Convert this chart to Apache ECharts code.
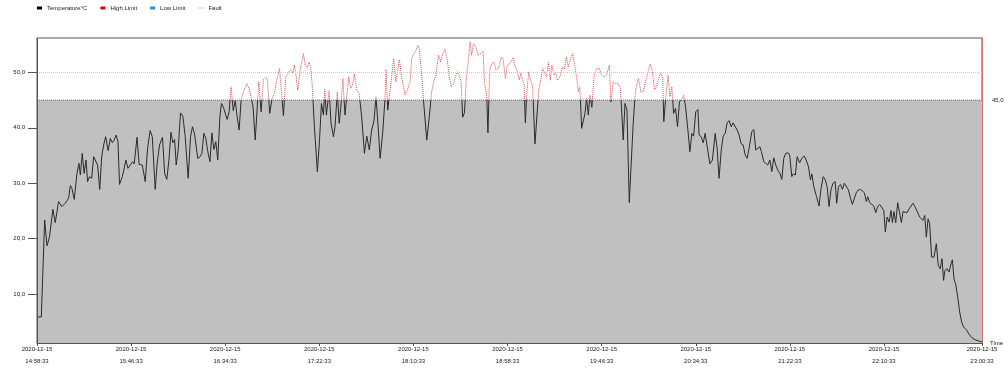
<!DOCTYPE html>
<html><head><meta charset="utf-8">
<script src="https://cdn.jsdelivr.net/npm/echarts@6/dist/echarts.min.js"></script>
<style>html,body{margin:0;padding:0;background:#fff}#c{width:1008px;height:374px}</style>
</head><body><div id="c"></div>
<script>
// elapsed minutes since 2020-12-15 14:58:33
const elapsedMin = [0,2.2,3.9,5.1,6.4,8.1,9.3,11.0,12.7,14.4,16.1,17.0,17.8,19.0,20.4,21.4,22.1,23.1,24.0,25.0,25.8,26.8,27.9,28.9,29.9,30.9,32.0,33.0,34.0,35.0,36.3,37.4,38.4,39.4,40.4,41.3,42.1,43.5,44.3,45.3,46.4,47.6,48.8,49.6,51.0,52.1,53.7,55.2,56.4,57.7,58.8,60.3,61.3,62.5,64.0,65.1,66.2,67.3,68.3,69.3,70.2,71.0,72.0,73.2,74.4,75.6,77.1,78.3,79.3,80.3,81.0,82.0,83.2,84.1,85.1,86.1,87.1,88.2,89.2,90.2,91.2,92.2,93.3,94.1,95.1,96.1,97.0,98.0,99.0,100.1,101.1,102.1,103.1,104.1,105.3,107.0,108.2,109.2,110.2,111.3,112.1,113.1,114.3,115.5,116.5,117.5,118.7,119.9,121.1,122.3,123.7,
125.7,126.9,127.9,128.8,129.4,130.5,131.3,132.2,133.0,134.2,135.1,135.9,136.8,137.8,138.8,139.6,140.3,141.5,143.0,144.1,145.1,146.1,146.8,147.6,149.0,150.0,151.2,152.0,153.2,154.1,154.9,156.0,157.1,158.0,159.0,159.9,160.9,161.9,163.1,164.3,165.6,167.0,168.2,169.5,170.7,171.9,172.9,174.0,175.0,176.3,177.5,178.0,178.9,179.7,180.9,181.9,183.0,184.0,184.8,186.0,187.7,189.1,190.3,191.1,192.3,193.3,194.2,195.0,196.2,197.4,198.8,200.1,201.3,202.5,203.5,204.7,205.9,206.9,208.1,209.3,210.3,211.3,212.4,213.4,214.4,215.4,216.3,217.1,218.0,219.1,220.2,220.9,221.7,222.6,223.7,224.9,226.3,227.5,228.3,229.4,230.0,230.9,231.9,233.1,234.1,235.3,
237.0,237.8,238.9,239.9,241.2,242.1,242.9,243.9,245.0,246.0,246.8,247.7,248.4,249.1,249.7,250.8,251.8,252.8,254.0,255.2,256.0,256.9,257.9,258.9,259.9,260.9,261.8,262.6,263.7,264.5,265.5,266.7,267.9,268.9,270.0,271.0,272.2,273.2,274.2,275.2,276.1,276.9,277.8,278.6,279.5,280.3,281.2,282.0,283.0,284.1,285.4,286.8,288.0,289.3,290.5,291.9,292.7,293.9,295.1,296.3,297.6,298.3,299.0,299.9,300.9,302.1,302.9,304.1,305.0,305.8,306.8,308.0,309.2,310.4,311.6,312.8,313.9,315.0,316.0,317.0,318.0,319.1,319.7,320.7,321.9,322.8,323.8,324.7,325.7,326.7,327.7,328.7,329.8,330.8,332.0,333.0,334.0,334.9,336.0,337.1,337.7,338.8,339.8,340.8,341.5,343.2,344.5,345.9,346.9,347.9,349.0,350.0,351.0,352.0,353.0,354.1,355.1,356.1,357.1,358.1,359.1,360.2,361.2,362.2,363.2,
364.6,365.6,366.6,367.6,368.7,369.5,370.7,371.7,372.7,373.8,374.8,375.8,376.8,377.8,378.9,379.9,380.9,381.9,383.1,383.9,385.0,385.7,386.8,387.7,389.0,390.1,391.3,392.3,393.5,394.5,395.2,396.2,397.6,398.9,399.9,401.0,402.0,403.0,404.0,405.0,406.0,407.1,407.9,408.8,409.8,410.8,411.8,412.8,413.9,414.9,415.9,416.9,417.9,418.9,420.0,421.0,422.0,423.0,423.7,424.7,425.7,426.8,427.8,428.8,429.8,430.8,431.9,432.7,433.6,434.6,435.6,436.3,437.1,438.0,439.0,440.0,440.9,441.7,442.7,443.8,444.8,445.8,446.8,447.8,448.5,449.5,450.2,451.1,451.9,452.8,453.6,454.5,455.3,456.3,457.5,458.7,459.7,460.7,461.6,462.4,463.1,464.2,465.2,466.2,466.9,467.7,468.6,469.6,470.6,471.6,472.6,474.0,475.4,476.7,478.4,480.1,482.0];
const temperature = [5.9,5.9,23.4,18.7,20.4,25.3,22.9,26.7,25.8,26.4,27.3,29.6,29.1,27.1,31.8,33.6,31.5,35.4,31.8,34.2,30.3,31.2,30.9,34.8,34.5,33.3,28.9,34.8,36.9,38.4,35.9,38.1,37.3,37.8,38.7,37.5,29.8,31.2,32.4,34.2,32.7,33.3,33.9,33.5,38.3,33.4,33.3,30.3,36.3,39.5,38.4,28.9,33.6,36.9,38.3,31.8,30.7,34.2,39.2,37.3,37.9,33.3,36.0,42.7,42.1,38.4,30.9,38.4,40.2,39.0,39.0,34.5,34.8,35.4,39.0,38.1,35.7,33.9,39.1,36.1,37.5,34.2,42.1,44.4,43.7,43.7,41.5,42.9,47.4,43.1,44.9,42.0,39.6,45.0,46.5,48.0,47.1,47.1,43.8,37.8,42.3,48.3,42.9,48.7,49.1,48.7,42.6,45.3,46.2,48.6,50.7,
42.2,49.2,49.8,49.5,50.5,49.9,51.3,49.2,46.8,50.5,50.7,53.4,51.3,50.9,51.8,50.9,48.0,40.2,32.1,37.8,44.4,42.3,46.9,42.3,46.7,40.8,38.4,40.2,46.5,40.8,43.5,48.9,42.3,45.7,49.2,47.1,47.7,49.7,46.8,46.2,42.0,35.4,38.5,36.0,39.6,41.3,45.6,40.2,34.5,39.0,45.3,50.5,43.2,42.9,49.2,52.5,48.3,50.5,52.3,49.2,45.9,47.1,48.3,52.5,53.4,54.0,54.9,54.3,49.5,43.8,37.8,42.0,46.5,48.6,49.5,53.1,51.9,53.4,54.2,52.2,49.2,47.4,47.9,49.2,50.1,49.5,48.3,41.9,42.7,49.2,52.8,55.5,53.1,55.1,54.8,53.1,53.4,53.8,48.0,45.6,39.1,50.4,51.6,51.9,50.4,50.7,
52.8,52.3,48.9,51.3,51.6,51.9,52.7,51.0,50.1,48.6,49.9,48.6,48.0,40.9,45.6,50.1,48.6,47.4,37.1,43.2,47.1,48.6,50.7,50.7,49.2,51.8,48.6,51.3,49.5,50.1,48.6,49.2,51.0,50.5,52.8,51.0,52.5,53.4,51.3,49.2,46.5,47.4,39.9,39.6,42.6,45.3,42.3,45.9,43.7,49.2,50.7,50.7,49.5,49.2,49.5,51.3,44.7,48.3,48.0,48.0,47.1,46.8,37.8,44.4,43.2,26.5,32.4,40.8,45.6,47.7,48.9,46.5,46.5,48.3,50.1,51.5,50.1,46.9,47.4,48.7,49.9,49.2,41.1,45.6,49.5,45.6,47.4,42.6,43.5,40.2,44.7,45.1,45.9,43.8,39.6,35.7,39.0,38.5,42.9,43.3,38.7,38.4,37.3,39.0,39.1,33.5,34.2,39.0,36.3,30.9,36.0,38.5,39.0,40.9,41.3,40.2,40.9,41.1,39.6,38.7,37.2,36.9,35.1,34.5,36.3,
39.3,39.7,36.0,36.1,36.6,35.7,33.9,33.6,33.3,34.2,32.1,34.6,33.3,32.4,31.8,30.7,34.5,35.4,35.5,35.1,31.2,31.7,31.5,34.8,33.7,34.5,34.9,34.2,33.0,30.6,31.7,29.4,27.6,25.9,29.1,31.2,30.7,29.4,25.8,28.9,30.0,30.3,26.4,29.4,29.8,28.9,30.0,29.8,28.8,27.3,26.2,27.3,28.3,28.8,28.9,28.9,28.3,26.7,27.6,26.5,26.4,25.9,24.7,25.8,26.2,26.1,25.1,21.2,23.9,23.0,25.1,22.9,24.9,22.9,26.5,26.4,22.9,24.9,25.1,24.7,25.4,25.9,26.4,25.8,25.9,24.5,23.9,24.2,23.3,24.2,20.3,23.6,22.7,16.7,16.7,19.1,15.2,14.6,16.4,12.5,14.3,14.6,14.0,15.5,16.2,12.8,11.8,9.5,6.8,5.0,4.1,3.6,2.8,2.2,1.8,1.6,1.4];
const highLimit = 45;
const gridLineValue = 50;
const yTickValues = [10, 20, 30, 40, 50];
const xTickMinutes = [0, 48, 96, 144, 192, 240, 288, 336, 384, 432, 482];
const legendNames = ['Temperature°C', 'High Limit', 'Low Limit', 'Fault'];

const t0 = new Date(2020, 11, 15, 14, 58, 33).getTime();
const tempData = elapsedMin.map((m, i) => [m, temperature[i]]);
const mEnd = 482;
const pad = n => String(n).padStart(2, '0');
function fmtTime(m) {
  const d = new Date(t0 + Math.round(m * 60000));
  return d.getFullYear() + '-' + pad(d.getMonth() + 1) + '-' + pad(d.getDate()) + '\n' +
    pad(d.getHours()) + ':' + pad(d.getMinutes()) + ':' + pad(d.getSeconds());
}
const fmtNum = v => Number(v).toFixed(1).replace('.', ',');
const font = '"Liberation Sans", Arial, sans-serif';
const yMin = 1.2, yMax = 56.2;

const chart = echarts.init(document.getElementById('c'));
chart.setOption({
  animation: false,
  textStyle: { fontFamily: font },
  legend: {
    left: 37, top: 5, padding: 0, itemWidth: 5, itemHeight: 3, itemGap: 13,
    textStyle: { fontSize: 6, color: '#222', fontFamily: font },
    data: [
      { name: legendNames[0], icon: 'rect', itemStyle: { color: '#000' } },
      { name: legendNames[1], icon: 'rect', itemStyle: { color: '#e00000' } },
      { name: legendNames[2], icon: 'rect', itemStyle: { color: '#2b8be0' } },
      { name: legendNames[3], icon: 'path://M0,0h2v2h-2zM4,0h2v2h-2zM8,0h2v2h-2z', itemStyle: { color: '#999' } }
    ]
  },
  grid: { left: 37, right: 26, top: 38, bottom: 31, containLabel: false, outerBoundsMode: 'none',
    show: true, borderColor: '#555', borderWidth: 1, backgroundColor: '#fff' },
  xAxis: {
    type: 'value', min: 0, max: mEnd, z: 5,
    name: 'Time', nameLocation: 'end', nameGap: 8, nameMoveOverlap: false,
    nameTextStyle: { fontSize: 6, color: '#222', padding: [0, 0, 2, 0] },
    axisLine: { show: true, lineStyle: { color: '#555' } },
    axisTick: { show: true, length: 3, customValues: xTickMinutes, lineStyle: { color: '#555' } },
    axisLabel: { customValues: xTickMinutes, formatter: fmtTime, fontSize: 6, color: '#222', lineHeight: 11.4, margin: 1, hideOverlap: false, showMaxLabel: true, showMinLabel: true },
    splitLine: { show: false }
  },
  yAxis: [{
    type: 'value', min: yMin, max: yMax, z: 5,
    axisLine: { show: true, lineStyle: { color: '#555' } },
    axisTick: { show: true, length: 9, customValues: yTickValues, lineStyle: { color: '#555' } },
    axisLabel: { customValues: yTickValues, formatter: fmtNum, fontSize: 6, color: '#222', margin: 12 },
    splitLine: { show: false }
  }, {
    type: 'value', position: 'right', min: yMin, max: yMax, z: 5,
    axisLine: { show: true, lineStyle: { color: '#d87070' } },
    axisTick: { show: false, customValues: [highLimit] },
    axisLabel: { customValues: [highLimit], formatter: fmtNum, fontSize: 6, color: '#222', margin: 10 },
    splitLine: { show: false }
  }],
  visualMap: [
    { type: 'piecewise', show: false, seriesIndex: 1, dimension: 1,
      pieces: [{ min: -100, max: highLimit, color: '#2a2a2a' }, { min: highLimit, max: 200, minOpen: true, color: 'rgba(0,0,0,0)' }] },
    { type: 'piecewise', show: false, seriesIndex: 2, dimension: 1,
      pieces: [{ min: -100, max: highLimit, color: 'rgba(0,0,0,0)' }, { min: highLimit, max: 200, minOpen: true, color: '#d84848' }] }
  ],
  series: [
    { name: legendNames[1], type: 'line', z: 1, silent: true, showSymbol: false,
      data: [[0, highLimit], [mEnd, highLimit]],
      lineStyle: { color: '#e03a3a', type: 'dotted', width: 1 },
      itemStyle: { color: '#e00000' },
      areaStyle: { color: '#c0c0c0', opacity: 1, origin: 'start' },
      markLine: { silent: true, symbol: 'none', label: { show: false },
        lineStyle: { color: '#c8c8c8', type: 'dotted', width: 1 },
        data: [{ yAxis: gridLineValue }] } },
    { name: legendNames[0], type: 'line', z: 3, showSymbol: false, data: tempData,
      lineStyle: { width: 1 } },
    { name: 'overLimit', type: 'line', z: 4, showSymbol: false, data: tempData,
      lineStyle: { width: 1, type: 'dotted' } },
    { name: legendNames[2], type: 'line', data: [], itemStyle: { color: '#2b8be0' } },
    { name: legendNames[3], type: 'line', data: [], itemStyle: { color: '#999' } }
  ]
});
</script>
</body></html>
